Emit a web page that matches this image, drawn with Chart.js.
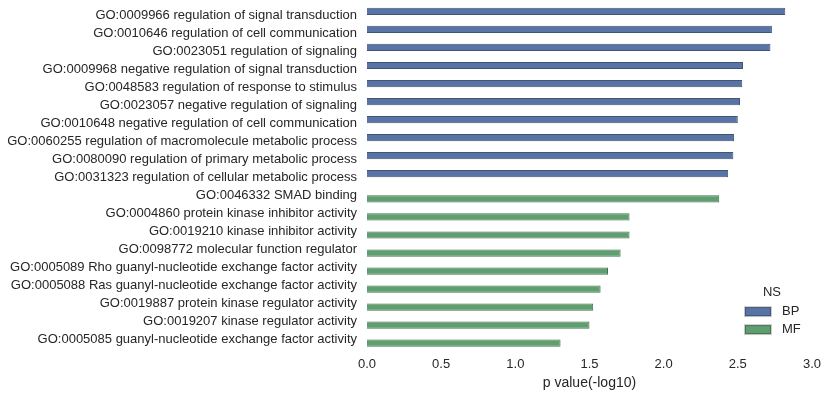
<!DOCTYPE html>
<html>
<head>
<meta charset="utf-8">
<script src="https://cdn.jsdelivr.net/npm/chart.js@4/dist/chart.umd.min.js"></script>
<style>
  html, body { margin: 0; padding: 0; background: #fff; }
  #wrap { width: 829px; height: 397px; position: relative; }
</style>
</head>
<body>
<div id="wrap"><canvas id="go_chart"></canvas></div>
<script>
"use strict";
/* GO terms, BP first then MF */
var bpTerms = [
  "GO:0009966 regulation of signal transduction",
  "GO:0010646 regulation of cell communication",
  "GO:0023051 regulation of signaling",
  "GO:0009968 negative regulation of signal transduction",
  "GO:0048583 regulation of response to stimulus",
  "GO:0023057 negative regulation of signaling",
  "GO:0010648 negative regulation of cell communication",
  "GO:0060255 regulation of macromolecule metabolic process",
  "GO:0080090 regulation of primary metabolic process",
  "GO:0031323 regulation of cellular metabolic process",
];
var bpValues = [2.82, 2.73, 2.72, 2.535, 2.53, 2.515, 2.50, 2.475, 2.47, 2.435];

var mfTerms = [
  "GO:0046332 SMAD binding",
  "GO:0004860 protein kinase inhibitor activity",
  "GO:0019210 kinase inhibitor activity",
  "GO:0098772 molecular function regulator",
  "GO:0005089 Rho guanyl-nucleotide exchange factor activity",
  "GO:0005088 Ras guanyl-nucleotide exchange factor activity",
  "GO:0019887 protein kinase regulator activity",
  "GO:0019207 kinase regulator activity",
  "GO:0005085 guanyl-nucleotide exchange factor activity",
];
var mfValues = [2.375, 1.77, 1.77, 1.71, 1.625, 1.575, 1.525, 1.50, 1.305];

var xTicks = [0, 0.5, 1.0, 1.5, 2.0, 2.5, 3.0];

var textColor = "#262626";
var fontFamily = "'Liberation Sans', Arial, sans-serif";

{
  var labels = bpTerms.concat(mfTerms);
  // seaborn hue split: each category has a BP slot and an MF slot
  var bpData = bpValues.concat(mfTerms.map(function () { return null; }));
  var mfData = bpTerms.map(function () { return null; }).concat(mfValues);

  var legendPlugin = {
    id: "nsLegend",
    afterDatasetsDraw: function (chart) {
      var ctx = chart.ctx;
      var area = chart.chartArea;
      var cx = area.right - 40;
      var top = area.bottom - 56;
      ctx.save();
      ctx.font = "13px " + fontFamily;
      ctx.fillStyle = textColor;
      ctx.textAlign = "center";
      ctx.textBaseline = "middle";
      ctx.fillText("NS", cx, top);

      chart.data.datasets.forEach(function (ds, i) {
        var y = top + 19 + i * 18;
        ctx.fillStyle = "#cccccc";
        ctx.fillRect(cx - 28, y - 5.5, 28, 11);
        ctx.fillStyle = ds.borderColor;
        ctx.fillRect(cx - 27, y - 4.5, 26, 9);
        ctx.fillStyle = ds.backgroundColor;
        ctx.fillRect(cx - 26, y - 3.5, 24, 7);
        ctx.fillStyle = textColor;
        ctx.textAlign = "left";
        ctx.fillText(ds.label, cx + 10, y);
      });
      ctx.restore();
    },
  };

  new Chart("go_chart", {
    type: "bar",
    data: {
      labels: labels,
      datasets: [
        {
          label: "BP",
          data: bpData,
          backgroundColor: "#5874a4",
          borderColor: "#3f5478",
          borderWidth: 1,
          categoryPercentage: 0.8,
          barPercentage: 1.0,
        },
        {
          label: "MF",
          data: mfData,
          backgroundColor: "#5f9e6e",
          borderColor: "#44734f",
          borderWidth: 1,
          categoryPercentage: 0.8,
          barPercentage: 1.0,
        },
      ],
    },
    options: {
      indexAxis: "y",
      responsive: true,
      maintainAspectRatio: false,
      animation: false,
      layout: {
        padding: { left: 0, right: 16, top: 6, bottom: 5 },
      },
      plugins: {
        legend: { display: false },
        tooltip: { enabled: false },
      },
      scales: {
        x: {
          min: 0,
          max: 3.0,
          afterBuildTicks: function (axis) {
            axis.ticks = xTicks.map(function (v) { return { value: v }; });
          },
          ticks: {
            color: textColor,
            font: { family: fontFamily, size: 13 },
            padding: 8,
            maxRotation: 0,
            callback: function (value) {
              return Number(value).toFixed(1);
            },
          },
          grid: { display: false, drawTicks: false },
          border: { display: false },
          title: {
            display: true,
            text: "p value(-log10)",
            color: textColor,
            font: { family: fontFamily, size: 14 },
            padding: { top: -5, bottom: 0 },
          },
        },
        y: {
          afterFit: function (scale) {
            scale.width = 367;
            scale.paddingTop = 0;
            scale.paddingBottom = 0;
          },
          ticks: {
            color: textColor,
            font: { family: fontFamily, size: 13 },
            padding: 10,
            autoSkip: false,
          },
          grid: { display: false, drawTicks: false },
          border: { display: false },
        },
      },
    },
    plugins: [legendPlugin],
  });
}
</script>
</body>
</html>
